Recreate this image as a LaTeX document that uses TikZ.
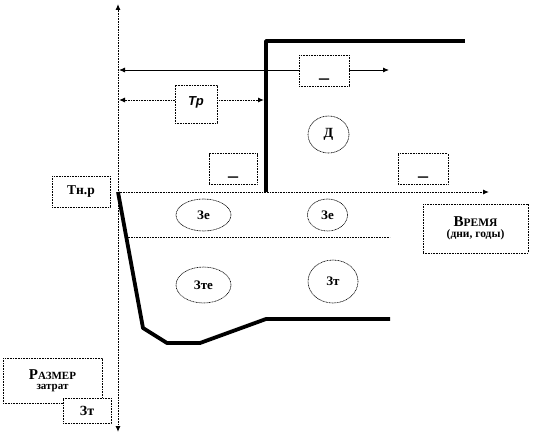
\documentclass[tikz,border=0pt]{standalone}
\usepackage{fontspec}
\setmainfont{Liberation Serif}
\newfontfamily\sansfam{Liberation Sans}
\usetikzlibrary{arrows.meta,shapes.geometric}
\begin{document}
\begin{tikzpicture}[x=1pt,y=-1pt,
  box/.style={draw=black, dash pattern=on 1pt off 0.6pt, line width=0.9pt, fill=white, inner sep=2pt},
  blankbox/.style={box, minimum width=50pt, text height=18pt, text depth=5pt, inner ysep=4pt, font=\bfseries\fontsize{20}{20}\selectfont},
  oval/.style={draw=black, dash pattern=on 1pt off 0.6pt, line width=0.6pt, ellipse, inner sep=0pt, fill=white, font=\bfseries\fontsize{13}{13}\selectfont},
  axisline/.style={dash pattern=on 1pt off 0.6pt, line width=1pt},
  tipboth/.style={{Latex[length=6pt,width=5pt]}-{Latex[length=6pt,width=5pt]}},
  tipend/.style={-{Latex[length=6pt,width=5pt]}},
  heavy/.style={line width=3.8pt, line join=round, line cap=butt}
]
\useasboundingbox (0,0) rectangle (534,436);

% coordinates
\coordinate (O) at (118,192);
\coordinate (Ytop) at (118,4);
\coordinate (Ybot) at (118,432);
\coordinate (Xend) at (489,192);
\coordinate (TopL) at (119,70);
\coordinate (TopR) at (389,70);
\coordinate (TpL) at (119,100);
\coordinate (TpR) at (264,100);
\coordinate (Dbase) at (266,192);
\coordinate (Dcorner) at (266,41);
\coordinate (Dend) at (465,41);
\coordinate (C1) at (143,328);
\coordinate (C2) at (167,343);
\coordinate (C3) at (200,343);
\coordinate (C4) at (266,319);
\coordinate (C5) at (390,319);
\coordinate (BandL) at (126,237);
\coordinate (BandR) at (390,237);

% axes
\draw[axisline, tipboth] (Ybot) -- (Ytop);
\draw[axisline, tipend] (O) -- (Xend);
\draw[axisline] (BandL) -- (BandR);

% top double arrows
\draw[line width=0.9pt, tipboth] (TopL) -- (TopR);
\draw[axisline, tipboth] (TpL) -- (TpR);

% thick income line
\draw[heavy] (Dbase) -- (Dcorner) -- (Dend);

% thick cost curve
\draw[heavy] (O) -- (C1) -- (C2) -- (C3) -- (C4) -- (C5);

% boxes
\node[blankbox] (b1) at (324,70.5) {\_};
\node[blankbox, minimum width=48pt] (b2) at (233,169) {\_};
\node[blankbox] (b3) at (423,169) {\_};

\node[box, minimum width=42pt, text height=14pt, text depth=12pt, inner ysep=6pt,
      font=\sansfam\bfseries\itshape\fontsize{13}{13}\selectfont] (tp) at (196,104) {Тр};

\node[box, minimum width=58pt, minimum height=31pt,
      font=\bfseries\fontsize{13.5}{13}\selectfont] (tnr) at (81,191.5) {Тн.р};

\node[box, minimum width=105pt, minimum height=49pt, align=center, font=\bfseries] (time) at (475.5,228.5)
  {{\fontsize{15}{15}\selectfont В}{\fontsize{11.5}{15}\selectfont РЕМЯ}\\[-1pt]
   {\fontsize{11.5}{12}\selectfont (дни, годы)}};

\node[box, minimum width=99pt, minimum height=45pt, align=center, font=\bfseries] (size) at (52.5,380.5)
  {{\fontsize{15}{15}\selectfont Р}{\fontsize{11}{15}\selectfont АЗМЕР}\\[-2pt]
   {\fontsize{11}{11}\selectfont затрат}};
\node[box, minimum width=48pt, minimum height=25pt,
      font=\bfseries\fontsize{14}{14}\selectfont] (zt) at (87,410.5) {Зт};

% ellipses
\node[oval, minimum width=41pt, minimum height=37pt, font=\bfseries\fontsize{14}{14}\selectfont] (D) at (328.5,134.5) {Д};
\node[oval, minimum width=55pt, minimum height=32pt] (ze1) at (203.5,215) {Зе};
\node[oval, minimum width=40pt, minimum height=32pt] (ze2) at (327.5,215) {Зе};
\node[oval, minimum width=55pt, minimum height=36pt] (zte) at (203.5,285) {Зте};
\node[oval, minimum width=50pt, minimum height=43pt] (zt2) at (333,281.5) {Зт};
\end{tikzpicture}
\end{document}
